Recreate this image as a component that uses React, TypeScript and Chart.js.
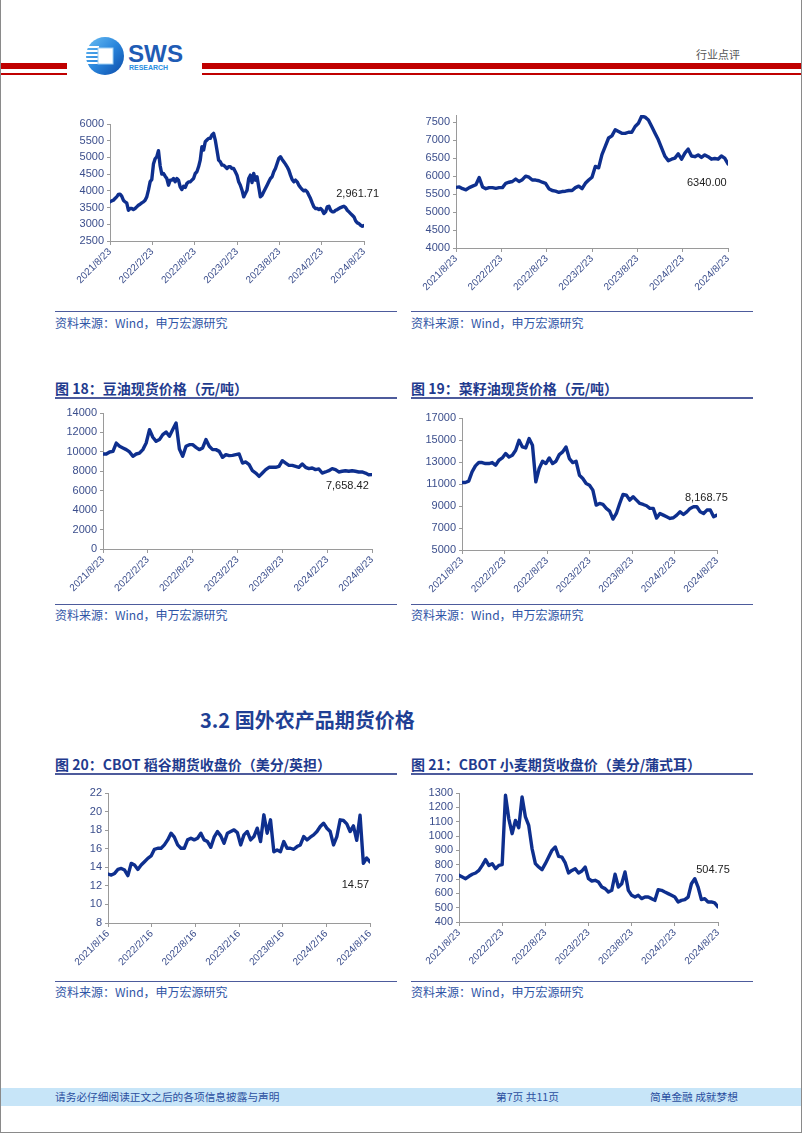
import React, { useEffect, useRef } from "react";
import { Chart, registerables } from "chart.js";
Chart.register(...registerables);

const CJK = "'Noto Sans CJK SC', 'Noto Sans', sans-serif";
const LAT = "'Liberation Sans', Arial, sans-serif";
const LINE_COLOR = "#0e2f8e";
const AXIS_COLOR = "#9a9a9a";
const TICK_COLOR = "#3b4e8c";

const monthTicks = [0, 6, 12, 18, 24, 30, 36];
const xLabels23 = ["2021/8/23", "2022/2/23", "2022/8/23", "2023/2/23", "2023/8/23", "2024/2/23", "2024/8/23"];
const xLabels16 = ["2021/8/16", "2022/2/16", "2022/8/16", "2023/2/16", "2023/8/16", "2024/2/16", "2024/8/16"];

// Chart 1 (top-left)
const c1Values = [3670,3700,3720,3770,3820,3890,3900,3840,3720,3670,3640,3420,3470,3470,3440,3470,3520,3570,3600,3640,3670,3720,3820,4020,4270,4340,4800,4960,5020,5200,4750,4500,4520,4440,4370,4170,4320,4320,4370,4270,4370,4320,4120,4040,4140,4100,4220,4270,4270,4320,4370,4520,4570,4720,4920,5320,5220,5470,5520,5570,5570,5670,5720,5520,5220,4920,4870,4770,4770,4720,4670,4720,4720,4670,4670,4570,4470,4270,4170,4020,3820,3920,4020,4370,4470,4250,4520,4320,4420,4120,3820,3870,3970,4070,4170,4270,4370,4420,4570,4670,4820,4970,5020,4940,4870,4800,4720,4620,4470,4340,4270,4320,4270,4170,4100,4040,4000,4020,3970,3870,3770,3640,3520,3470,3470,3440,3470,3420,3320,3370,3520,3540,3420,3370,3370,3420,3440,3470,3500,3520,3540,3500,3420,3370,3320,3270,3220,3100,3040,3020,2970,2940,2962];
const c1YTicks = [2500, 3000, 3500, 4000, 4500, 5000, 5500, 6000];

// Chart 2 (top-right)
const c2Values = [5685,5700,5650,5620,5680,5720,5760,5960,5700,5650,5680,5680,5660,5680,5680,5800,5830,5850,5920,5850,5900,6000,5970,5890,5890,5870,5830,5800,5650,5600,5580,5550,5570,5580,5600,5600,5680,5720,5650,5800,5890,5970,6270,6230,6600,6830,7060,7120,7290,7240,7190,7190,7220,7220,7380,7470,7670,7640,7560,7380,7190,7010,6780,6550,6430,6470,6500,6620,6470,6640,6750,6560,6540,6590,6520,6590,6540,6470,6490,6470,6560,6500,6340];
const c2YTicks = [4000, 4500, 5000, 5500, 6000, 6500, 7000, 7500];

// Chart 18 soybean oil
const c18Values = [9780,9780,9990,10050,10900,10570,10400,10230,9990,9540,9780,9880,10230,10910,12290,11500,11080,11260,11770,12050,11600,12290,12970,10300,9540,10570,10740,10740,10470,10230,10400,11260,10570,10230,10230,10050,9440,9710,9610,9640,9710,9780,8850,8960,8680,8060,7820,7480,7820,8170,8410,8410,8410,8510,9090,8850,8610,8610,8510,8410,8750,8410,8270,8340,8170,8240,7820,7930,8060,8270,8170,7930,8000,8060,8000,8060,8000,7930,7930,7820,7650,7660];
const c18YTicks = [0, 2000, 4000, 6000, 8000, 10000, 12000, 14000];

// Chart 19 rapeseed oil
const c19Values = [11140,11140,11260,12100,12650,12950,12950,12860,12860,12950,12710,13160,13370,13770,13460,13610,14070,14970,14370,14280,15130,14520,11200,12410,13070,12860,13370,12860,13070,13670,13920,14370,13310,12950,13070,11800,11500,11040,10890,10440,9080,9230,9140,8780,8540,7810,8320,9230,10050,9990,9530,9840,9530,9230,9140,9020,8780,8780,7900,8320,8170,8020,7870,7930,8170,8470,8230,8470,8780,8930,8930,8470,8320,8630,8630,8020,8169];
const c19YTicks = [5000, 7000, 9000, 11000, 13000, 15000, 17000];

// Chart 20 CBOT rice
const c20Values = [13.27,13.16,13.34,13.77,13.88,13.70,13.10,14.42,14.24,13.77,14.24,14.60,14.96,15.22,15.94,16.05,16.05,16.41,16.95,17.67,17.24,16.41,16.05,16.05,16.95,17.13,16.95,17.13,17.67,16.95,16.77,16.15,17.24,17.85,17.38,16.58,17.67,17.85,18.03,17.74,16.41,17.49,17.85,16.95,17.31,18.21,16.77,19.65,17.67,19.11,15.68,15.87,15.68,16.77,16.05,16.05,15.94,16.23,16.41,17.31,16.95,17.24,17.49,17.85,18.39,18.75,18.21,17.85,16.41,17.31,19.11,19.04,18.68,17.85,18.46,16.90,19.60,14.42,15.00,14.57];
const c20YTicks = [8, 10, 12, 14, 16, 18, 20, 22];

// Chart 21 CBOT wheat
const c21Values = [726,714,702,719,733,742,760,795,835,795,807,772,795,800,1284,1120,1016,1109,1058,1272,1133,1074,912,807,784,765,807,853,900,923,858,853,812,742,760,772,742,756,784,702,686,691,679,644,633,609,621,733,644,667,749,621,586,574,586,563,574,574,563,551,626,621,609,598,586,574,540,551,556,574,667,702,644,556,563,540,540,533,505];
const c21YTicks = [400, 500, 600, 700, 800, 900, 1000, 1100, 1200, 1300];

type Box = { x: number; y: number; w: number; h: number };
type Plot = { l: number; r: number; t: number; b: number };

function LineChart(props: {
  values: number[];
  yMin: number;
  yMax: number;
  yTicks: number[];
  xLabels: string[];
  label: string;
  labelM: number;
  labelV: number;
  box: Box;
  plot: Plot;
}) {
  const ref = useRef<HTMLCanvasElement | null>(null);
  const { values, yMin, yMax, yTicks, xLabels, label, labelM, labelV, box, plot } = props;
  useEffect(() => {
    if (!ref.current) return;
    const W = plot.l - box.x;
    const R = box.x + box.w - plot.r;
    const T = plot.t - box.y;
    const H = box.y + box.h - plot.b;
    const n = values.length;
    const data = values.map((v, i) => ({ x: (i * 36) / (n - 1), y: v }));
    const labelPlugin = {
      id: "endLabel",
      afterDatasetsDraw(chart: any) {
        const ctx = chart.ctx;
        const xs = chart.scales.x;
        const ys = chart.scales.y;
        ctx.save();
        ctx.font = "11px " + LAT;
        ctx.fillStyle = "#222";
        ctx.textAlign = "center";
        ctx.textBaseline = "middle";
        ctx.fillText(label, xs.getPixelForValue(labelM), ys.getPixelForValue(labelV));
        ctx.restore();
      },
    };
    const chart = new Chart(ref.current, {
      type: "line",
      data: {
        datasets: [
          {
            data,
            borderColor: LINE_COLOR,
            borderWidth: 3.4,
            pointRadius: 0,
            tension: 0,
            borderJoinStyle: "round",
            borderCapStyle: "round",
            fill: false,
          } as any,
        ],
      },
      options: {
        animation: false,
        responsive: false,
        devicePixelRatio: 1,
        layout: { autoPadding: false, padding: { left: 0, top: T, right: R, bottom: 0 } },
        plugins: { legend: { display: false }, tooltip: { enabled: false } },
        scales: {
          x: {
            type: "linear",
            min: 0,
            max: 36,
            afterBuildTicks: (s: any) => {
              s.ticks = monthTicks.map((v) => ({ value: v }));
            },
            afterFit: (s: any) => {
              s.height = H;
            },
            ticks: {
              autoSkip: false,
              minRotation: 45,
              maxRotation: 45,
              color: TICK_COLOR,
              padding: 1,
              font: { family: LAT, size: 10 },
              callback: (v: any) => xLabels[monthTicks.indexOf(Number(v))] ?? "",
            },
            grid: { drawOnChartArea: false, drawTicks: true, tickLength: 4, color: AXIS_COLOR },
            border: { color: AXIS_COLOR, width: 1 },
          },
          y: {
            type: "linear",
            min: yMin,
            max: yMax,
            afterBuildTicks: (s: any) => {
              s.ticks = yTicks.map((v) => ({ value: v }));
            },
            afterFit: (s: any) => {
              s.width = W;
            },
            ticks: {
              autoSkip: false,
              color: TICK_COLOR,
              padding: 3,
              font: { family: LAT, size: 11 },
              callback: (v: any) => String(v),
            },
            grid: { drawOnChartArea: false, drawTicks: true, tickLength: 3, color: AXIS_COLOR },
            border: { color: AXIS_COLOR, width: 1 },
          },
        },
      } as any,
      plugins: [labelPlugin],
    });
    return () => chart.destroy();
  }, []);
  return (
    <canvas
      ref={ref}
      width={box.w}
      height={box.h}
      style={{ position: "absolute", left: box.x, top: box.y, width: box.w, height: box.h }}
    />
  );
}

function Txt(props: { x: number; y: number; size: number; color: string; bold?: boolean; children: any; family?: string }) {
  const { x, y, size, color, bold, children, family } = props;
  return (
    <div
      style={{
        position: "absolute",
        left: x,
        top: y - size,
        height: size * 2,
        lineHeight: size * 2 + "px",
        fontSize: size,
        color,
        fontWeight: bold ? 700 : 400,
        whiteSpace: "nowrap",
        fontFamily: family || CJK,
      }}
    >
      {children}
    </div>
  );
}

function HLine(props: { x1: number; x2: number; y: number; h: number; color: string }) {
  return (
    <div
      style={{
        position: "absolute",
        left: props.x1,
        top: props.y,
        width: props.x2 - props.x1,
        height: props.h,
        background: props.color,
      }}
    />
  );
}

const TITLE_COLOR = "#1f3b8e";
const UNDER_COLOR = "#4d5b9c";
const SRC_COLOR = "#2f55a6";
const SRC_TEXT = "资料来源：Wind，申万宏源研究";

function Header() {
  return (
    <svg style={{ position: "absolute", left: 0, top: 0 }} width={802} height={90}>
      <defs>
        <linearGradient id="lg" x1="0" y1="0" x2="1" y2="1">
          <stop offset="0" stopColor="#6cc0f4" />
          <stop offset="0.5" stopColor="#2a86dc" />
          <stop offset="1" stopColor="#0b4aa8" />
        </linearGradient>
      </defs>
      <rect x={0} y={63} width={67} height={6} fill="#c00000" />
      <rect x={0} y={73} width={67} height={2} fill="#c00000" />
      <rect x={202} y={63} width={600} height={6} fill="#c00000" />
      <rect x={202} y={73} width={600} height={2} fill="#c00000" />
      <circle cx={105} cy={56} r={19} fill="url(#lg)" />
      <rect x={86} y={46} width={13} height={2} fill="#fff" />
      <rect x={86} y={50} width={13} height={2} fill="#fff" />
      <rect x={86} y={54} width={13} height={2} fill="#fff" />
      <rect x={86} y={58} width={13} height={2} fill="#fff" />
      <rect x={86} y={62} width={13} height={2} fill="#fff" />
      <rect x={98} y={48} width={15} height={16} fill="#fff" stroke="#9fd0f4" strokeWidth={1} />
      <text x={128} y={62} fontFamily={LAT} fontWeight={700} fontSize={24} fill="#1f5cb5" textLength={55} lengthAdjust="spacingAndGlyphs">
        SWS
      </text>
      <text x={129} y={69.5} fontFamily={LAT} fontWeight={700} fontSize={8} fill="#2a8ee0" textLength={39} lengthAdjust="spacingAndGlyphs">
        RESEARCH
      </text>
    </svg>
  );
}

export default function App() {
  return (
    <div
      style={{
        position: "absolute",
        left: 0,
        top: 0,
        width: 802,
        height: 1133,
        background: "#fff",
        overflow: "hidden",
        fontFamily: CJK,
      }}
    >
      <Header />
      <Txt x={696} y={54} size={11} color="#555">行业点评</Txt>

      {/* top row */}
      <LineChart
        values={c1Values}
        yMin={2500}
        yMax={6000}
        yTicks={c1YTicks}
        xLabels={xLabels23}
        label="2,961.71"
        labelM={35.1}
        labelV={3920}
        box={{ x: 50, y: 100, w: 350, h: 200 }}
        plot={{ l: 110, r: 364, t: 124, b: 241 }}
      />
      <LineChart
        values={c2Values}
        yMin={4000}
        yMax={7700}
        yTicks={c2YTicks}
        xLabels={xLabels23}
        label="6340.00"
        labelM={33.2}
        labelV={5805}
        box={{ x: 406, y: 100, w: 350, h: 200 }}
        plot={{ l: 456, r: 728, t: 115, b: 248 }}
      />
      <HLine x1={55} x2={397} y={311} h={1} color={UNDER_COLOR} />
      <HLine x1={411} x2={753} y={311} h={1} color={UNDER_COLOR} />
      <Txt x={55} y={323} size={12} color={SRC_COLOR}>{SRC_TEXT}</Txt>
      <Txt x={411} y={323} size={12} color={SRC_COLOR}>{SRC_TEXT}</Txt>

      {/* middle row */}
      <Txt x={55} y={388} size={14} bold color={TITLE_COLOR}>图 18：豆油现货价格（元/吨）</Txt>
      <Txt x={411} y={388} size={14} bold color={TITLE_COLOR}>图 19：菜籽油现货价格（元/吨）</Txt>
      <HLine x1={55} x2={397} y={397} h={2} color={UNDER_COLOR} />
      <HLine x1={411} x2={753} y={397} h={2} color={UNDER_COLOR} />
      <LineChart
        values={c18Values}
        yMin={0}
        yMax={14000}
        yTicks={c18YTicks}
        xLabels={xLabels23}
        label="7,658.42"
        labelM={32.7}
        labelV={6520}
        box={{ x: 45, y: 400, w: 355, h: 200 }}
        plot={{ l: 103, r: 372, t: 413, b: 549 }}
      />
      <LineChart
        values={c19Values}
        yMin={5000}
        yMax={17000}
        yTicks={c19YTicks}
        xLabels={xLabels23}
        label="8,168.75"
        labelM={34.5}
        labelV={9745}
        box={{ x: 406, y: 400, w: 350, h: 200 }}
        plot={{ l: 462, r: 717, t: 418, b: 550 }}
      />
      <HLine x1={55} x2={397} y={604} h={1} color={UNDER_COLOR} />
      <HLine x1={411} x2={753} y={604} h={1} color={UNDER_COLOR} />
      <Txt x={55} y={615} size={12} color={SRC_COLOR}>{SRC_TEXT}</Txt>
      <Txt x={411} y={615} size={12} color={SRC_COLOR}>{SRC_TEXT}</Txt>

      {/* section heading */}
      <Txt x={200} y={720} size={20} bold color="#1f3f94">3.2 国外农产品期货价格</Txt>

      {/* bottom row */}
      <Txt x={55} y={764} size={14} bold color={TITLE_COLOR}>图 20：CBOT 稻谷期货收盘价（美分/英担）</Txt>
      <Txt x={411} y={764} size={14} bold color={TITLE_COLOR}>图 21：CBOT 小麦期货收盘价（美分/蒲式耳）</Txt>
      <HLine x1={55} x2={397} y={773} h={2} color={UNDER_COLOR} />
      <HLine x1={411} x2={753} y={773} h={2} color={UNDER_COLOR} />
      <LineChart
        values={c20Values}
        yMin={8}
        yMax={22}
        yTicks={c20YTicks}
        xLabels={xLabels16}
        label="14.57"
        labelM={34.0}
        labelV={12.08}
        box={{ x: 50, y: 776, w: 350, h: 200 }}
        plot={{ l: 108, r: 370, t: 793, b: 923 }}
      />
      <LineChart
        values={c21Values}
        yMin={400}
        yMax={1300}
        yTicks={c21YTicks}
        xLabels={xLabels23}
        label="504.75"
        labelM={35.3}
        labelV={765}
        box={{ x: 406, y: 776, w: 350, h: 200 }}
        plot={{ l: 459, r: 718, t: 793, b: 922 }}
      />
      <HLine x1={55} x2={397} y={981} h={1} color={UNDER_COLOR} />
      <HLine x1={411} x2={753} y={981} h={1} color={UNDER_COLOR} />
      <Txt x={55} y={992} size={12} color={SRC_COLOR}>{SRC_TEXT}</Txt>
      <Txt x={411} y={992} size={12} color={SRC_COLOR}>{SRC_TEXT}</Txt>

      {/* footer */}
      <div style={{ position: "absolute", left: 0, top: 1088, width: 802, height: 18, background: "#c7e5f8" }} />
      <Txt x={55} y={1097} size={10.7} color="#2b4fa0">请务必仔细阅读正文之后的各项信息披露与声明</Txt>
      <Txt x={496} y={1097} size={10.7} color="#2b4fa0">第7页 共11页</Txt>
      <Txt x={650} y={1097} size={10.7} color="#2b4fa0">简单金融 成就梦想</Txt>

      {/* page border */}
      <div
        style={{
          position: "absolute",
          left: 0,
          top: 0,
          width: 802,
          height: 1133,
          boxSizing: "border-box",
          borderLeft: "1px solid #8a8a8a",
          borderRight: "1px solid #8a8a8a",
          borderBottom: "1px solid #8a8a8a",
          pointerEvents: "none",
        }}
      />
    </div>
  );
}
